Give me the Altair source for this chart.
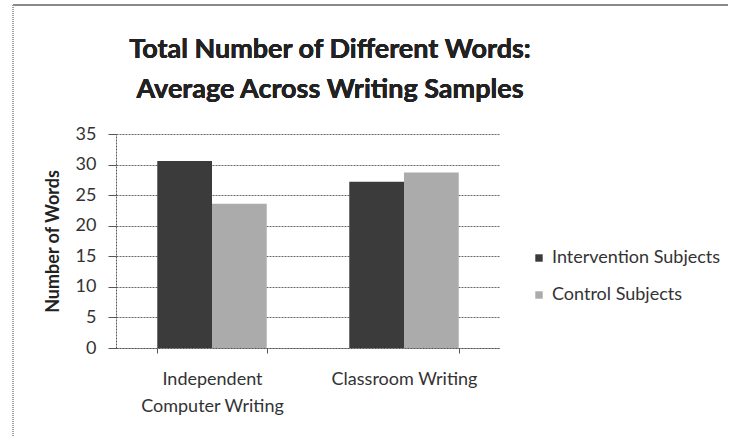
import altair as alt
import pandas as pd

categories = ["Independent Computer Writing", "Classroom Writing"]
groups = ["Intervention Subjects", "Control Subjects"]
intervention = [30.6, 27.2]
control = [23.6, 28.7]
title_lines = ["Total Number of Different Words:", "Average Across Writing Samples"]

rows = []
for i, c in enumerate(categories):
    rows.append({"cat": c, "grp": groups[0], "val": intervention[i]})
    rows.append({"cat": c, "grp": groups[1], "val": control[i]})
df = pd.DataFrame(rows)

FONT = "Lato"

bars = alt.Chart(df).mark_bar().encode(
    x=alt.X("cat:N", sort=categories, title=None,
            scale=alt.Scale(paddingInner=0.43, paddingOuter=0.215),
            axis=alt.Axis(labelAngle=0, labelFontSize=18, labelColor="#333",
                          labelFont=FONT, labelPadding=17, labelLineHeight=27,
                          labelExpr="datum.value == 'Independent Computer Writing' ? ['Independent', 'Computer Writing'] : datum.value",
                          tickBand="extent", tickSize=5, tickColor="#555",
                          domainColor="#555", domainDash=[2, 1], grid=False)),
    xOffset=alt.XOffset("grp:N", sort=groups),
    y=alt.Y("val:Q", title="Number of Words",
            scale=alt.Scale(domain=[0, 35]),
            axis=alt.Axis(values=[0, 5, 10, 15, 20, 25, 30, 35], labelFontSize=18,
                          labelFont=FONT, labelColor="#333", labelPadding=12,
                          titleFont=FONT, titleFontSize=18, titleFontWeight="bold",
                          titleColor="#222", titlePadding=13,
                          tickSize=8, tickColor="#555", domainColor="#555",
                          domainDash=[2, 1], gridColor="#666", gridDash=[2, 1],
                          gridWidth=1)),
    color=alt.Color("grp:N", sort=groups,
                    scale=alt.Scale(domain=groups, range=["#3b3b3b", "#ababab"]),
                    legend=alt.Legend(title=None, orient="none", legendX=414, legendY=115,
                                      symbolType="square", symbolSize=55, labelLimit=400,
                                      labelFontSize=18, labelFont=FONT, labelColor="#333",
                                      rowPadding=19, symbolStrokeWidth=0)),
)

title1 = alt.Chart(df).mark_text(font=FONT, fontSize=27, fontWeight="bold", color="#222",
                                 align="center", baseline="middle").encode(
    x=alt.value(214), y=alt.value(-84), text=alt.value(title_lines[0]))
title2 = alt.Chart(df).mark_text(font=FONT, fontSize=27, fontWeight="bold", color="#222",
                                 align="center", baseline="middle").encode(
    x=alt.value(214), y=alt.value(-44), text=alt.value(title_lines[1]))

top_border = alt.Chart(df).mark_rule(color="#888", strokeWidth=1.5).encode(
    x=alt.value(-103), x2=alt.value(612), y=alt.value(-129))
left_border = alt.Chart(df).mark_rule(color="#999", strokeWidth=1, strokeDash=[1, 1]).encode(
    x=alt.value(-103), y=alt.value(-129), y2=alt.value(302))

chart = alt.layer(bars, title1, title2, top_border, left_border).properties(
    width=384, height=214,
    autosize=alt.AutoSizeParams(type="none"),
    padding={"left": 116, "top": 134, "right": 237, "bottom": 88},
    background="white",
).configure_view(stroke=None)

chart.save("out.html", embed_options={"renderer": "svg", "actions": False})
